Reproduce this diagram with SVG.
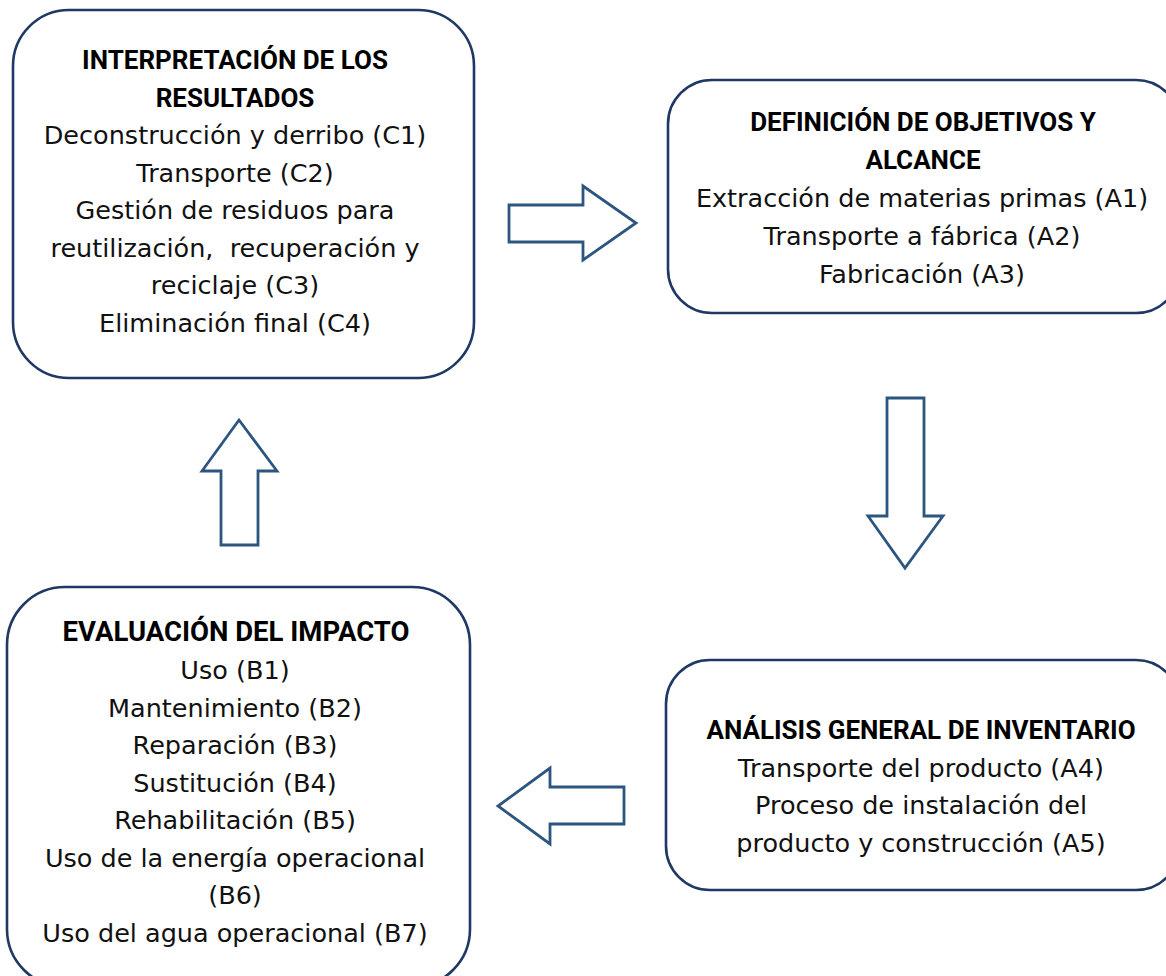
<svg xmlns="http://www.w3.org/2000/svg" width="1166" height="976" viewBox="0 0 1166 976">
<style>
.box{fill:#fff;stroke:#1f3864;stroke-width:2.6}
.arrow{fill:#fff;stroke:#2c5580;stroke-width:2.8;stroke-linejoin:miter}
.h{font-family:Roboto,"Liberation Sans",Arial,sans-serif;font-weight:bold;font-size:26px;fill:#000;text-anchor:middle}
.t{font-family:"DejaVu Sans","Liberation Sans",sans-serif;font-size:25.5px;fill:#111;text-anchor:middle}
</style>
<rect width="1166" height="976" fill="#fff"/>
<g id="node-interpretacion">
<rect class="box" x="13" y="10" width="461" height="368" rx="56" ry="56"/>
<text class="h" x="235" y="69">INTERPRETACIÓN DE LOS</text>
<text class="h" x="235" y="106.5">RESULTADOS</text>
<text class="t" x="235" y="144">Deconstrucción y derribo (C1)</text>
<text class="t" x="235" y="181.5">Transporte (C2)</text>
<text class="t" x="235" y="219">Gestión de residuos para</text>
<text class="t" x="235" y="256.5" xml:space="preserve">reutilización,  recuperación y</text>
<text class="t" x="235" y="294">reciclaje (C3)</text>
<text class="t" x="235" y="331.5">Eliminación final (C4)</text>
</g>
<g id="node-definicion">
<rect class="box" x="668" y="80" width="512" height="233" rx="44" ry="44"/>
<text class="h" x="923" y="131">DEFINICIÓN DE OBJETIVOS Y</text>
<text class="h" x="923" y="169">ALCANCE</text>
<text class="t" x="922" y="207">Extracción de materias primas (A1)</text>
<text class="t" x="922" y="245">Transporte a fábrica (A2)</text>
<text class="t" x="922" y="283">Fabricación (A3)</text>
</g>
<g id="node-analisis">
<rect class="box" x="666" y="660" width="514" height="230" rx="44" ry="44"/>
<text class="h" x="921" y="739">ANÁLISIS GENERAL DE INVENTARIO</text>
<text class="t" x="921" y="776.5">Transporte del producto (A4)</text>
<text class="t" x="921" y="814">Proceso de instalación del</text>
<text class="t" x="921" y="851.5">producto y construcción (A5)</text>
</g>
<g id="node-evaluacion">
<rect class="box" x="7" y="587" width="463" height="400" rx="58" ry="58"/>
<text class="h" x="236" y="641" style="font-size:27.5px">EVALUACIÓN DEL IMPACTO</text>
<text class="t" x="235" y="679">Uso (B1)</text>
<text class="t" x="235" y="716.5">Mantenimiento (B2)</text>
<text class="t" x="235" y="754">Reparación (B3)</text>
<text class="t" x="235" y="791.5">Sustitución (B4)</text>
<text class="t" x="235" y="829">Rehabilitación (B5)</text>
<text class="t" x="235" y="866.5">Uso de la energía operacional</text>
<text class="t" x="235" y="904">(B6)</text>
<text class="t" x="235" y="941.5">Uso del agua operacional (B7)</text>
</g>
<g id="connectors">
<polygon class="arrow" points="509,205 583,205 583,186 636,223 583,260 583,242 509,242"/>
<polygon class="arrow" points="887,398 924,398 924,516 943,516 905,568 868,516 887,516"/>
<polygon class="arrow" points="624,787 550,787 550,768 498,806 550,844 550,824 624,824"/>
<polygon class="arrow" points="221,545 221,471 202,471 239,420 277,471 258,471 258,545"/>
</g>
</svg>
